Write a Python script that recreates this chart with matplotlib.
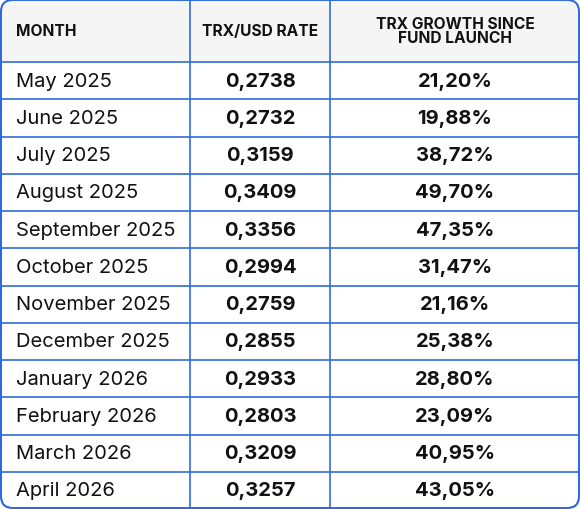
import matplotlib
matplotlib.use("Agg")
import matplotlib.pyplot as plt
from matplotlib.patches import FancyBboxPatch, Rectangle

headers = ["MONTH", "TRX/USD RATE", "TRX GROWTH SINCE\nFUND LAUNCH"]
months = ["May 2025", "June 2025", "July 2025", "August 2025", "September 2025",
          "October 2025", "November 2025", "December 2025", "January 2026",
          "February 2026", "March 2026", "April 2026"]
rates = ["0,2738", "0,2732", "0,3159", "0,3409", "0,3356", "0,2994", "0,2759",
         "0,2855", "0,2933", "0,2803", "0,3209", "0,3257"]
growth = ["21,20%", "19,88%", "38,72%", "49,70%", "47,35%", "31,47%", "21,16%",
          "25,38%", "28,80%", "23,09%", "40,95%", "43,05%"]

W, H = 580, 510
col_x = [0, 190, 330, 580]
head_h = 63
row_h = (H - head_h) / len(months)
blue = "#2f6bdc"
plt.rcParams['font.family'] = ['Inter', 'DejaVu Sans']

fig = plt.figure(figsize=(W/100, H/100), dpi=100)
ax = fig.add_axes([0, 0, 1, 1])
ax.set_xlim(0, W); ax.set_ylim(H, 0); ax.axis('off')

clip = FancyBboxPatch((1, 1), W-2, H-2, boxstyle="round,pad=0,rounding_size=12",
                      facecolor="white", edgecolor=blue, linewidth=1.2, zorder=1)
ax.add_patch(clip)
hdr = Rectangle((0, 0), W, head_h, facecolor="#f5f5f5", edgecolor="none", zorder=1.5)
ax.add_patch(hdr)
hdr.set_clip_path(clip)

for x in col_x[1:-1]:
    ax.plot([x, x], [0, H], color=blue, lw=1.2, zorder=2)
for i in range(len(months)):
    y = head_h + i * row_h
    ax.plot([0, W], [y, y], color=blue, lw=1.2, zorder=2)
ax.add_patch(FancyBboxPatch((1, 1), W-2, H-2, boxstyle="round,pad=0,rounding_size=12",
                            facecolor="none", edgecolor=blue, linewidth=1.4, zorder=3))

hs = 11.2
ax.text(16, head_h/2, headers[0], fontsize=hs, fontweight='bold', va='center', ha='left', color="#111")
ax.text((col_x[1]+col_x[2])/2, head_h/2, headers[1], fontsize=hs, fontweight='bold', va='center', ha='center', color="#111")
ax.text((col_x[2]+col_x[3])/2, head_h/2, headers[2], fontsize=hs, fontweight='bold', va='center', ha='center', color="#111", linespacing=0.9)

fs = 14.5
for i, (m, r, g) in enumerate(zip(months, rates, growth)):
    yc = head_h + (i + 0.5) * row_h
    ax.text(16, yc, m, fontsize=fs, va='center', ha='left', color="#111")
    ax.text((col_x[1]+col_x[2])/2, yc, r, fontsize=fs, fontweight='bold', va='center', ha='center', color="#111")
    ax.text((col_x[2]+col_x[3])/2, yc, g, fontsize=fs, fontweight='bold', va='center', ha='center', color="#111")

fig.savefig("out.png", dpi=100)
